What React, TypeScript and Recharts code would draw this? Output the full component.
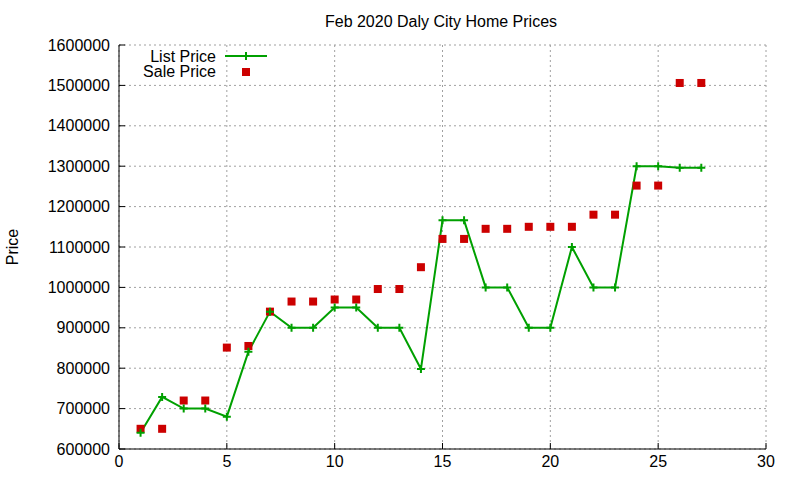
import React from 'react';
import { ComposedChart, Line, Scatter, XAxis, YAxis, CartesianGrid, Legend } from 'recharts';

const days = [1, 2, 3, 4, 5, 6, 7, 8, 9, 10, 11, 12, 13, 14, 15, 16, 17, 18, 19, 20, 21, 22, 23, 24, 25, 26, 27];
const listPrice = [640000, 729000, 700000, 700000, 680000, 841000, 940000, 900000, 900000, 950000, 950000, 900000, 900000, 798000, 1166000, 1166000, 1000000, 1000000, 900000, 900000, 1100000, 1000000, 1000000, 1300000, 1300000, 1296000, 1296000];
const salePrice = [650000, 650000, 720000, 720000, 851000, 855000, 940000, 965000, 965000, 970000, 970000, 996000, 996000, 1050000, 1120000, 1120000, 1145000, 1145000, 1150000, 1150000, 1150000, 1180000, 1180000, 1252000, 1252000, 1506000, 1506000];
const xTicks = [0, 5, 10, 15, 20, 25, 30];
const yTicks = [600000, 700000, 800000, 900000, 1000000, 1100000, 1200000, 1300000, 1400000, 1500000, 1600000];

const title = 'Feb 2020 Daly City Home Prices';
const yLabel = 'Price';
const listName = 'List Price';
const saleName = 'Sale Price';

const data = days.map((d, i) => ({ x: d, list: listPrice[i], sale: salePrice[i] }));

const GREEN = '#00a000';
const RED = '#cc0000';

const CrossDot = (props: any) => {
  const { cx, cy } = props;
  if (cx == null || cy == null) return null;
  return <path d={`M${cx - 4},${cy}h8M${cx},${cy - 4}v8`} stroke={GREEN} strokeWidth={2} fill="none" />;
};

const Square = (props: any) => {
  const { cx, cy } = props;
  if (cx == null || cy == null) return null;
  return <rect x={cx - 4} y={cy - 4} width={8} height={8} fill={RED} />;
};

const LegendContent = () => (
  <svg width={300} height={90} style={{ position: 'absolute', left: 0, top: 0, overflow: 'visible' }}>
    <text x={216} y={56} textAnchor="end" dominantBaseline="central" fontSize={16} fill="#000">{listName}</text>
    <line x1={225} x2={267} y1={56} y2={56} stroke={GREEN} strokeWidth={2} />
    <path d="M246,52v8" stroke={GREEN} strokeWidth={2} />
    <text x={216} y={71} textAnchor="end" dominantBaseline="central" fontSize={16} fill="#000">{saleName}</text>
    <rect x={242} y={68} width={8} height={8} fill={RED} />
  </svg>
);

export default function App() {
  return (
    <div style={{ position: 'absolute', left: 0, top: 0, width: 800, height: 480, background: '#fff', fontFamily: '"Liberation Sans", Arial, sans-serif' }}>
      <ComposedChart width={800} height={480} data={data} margin={{ top: 45, right: 34, bottom: 0, left: 9 }}>
        <text x={441} y={21} textAnchor="middle" dominantBaseline="central" fontSize={16} fill="#000">{title}</text>
        <CartesianGrid stroke="#a0a0a0" strokeDasharray="2 3" verticalPoints={undefined} />
        <XAxis
          dataKey="x"
          type="number"
          domain={[0, 30]}
          ticks={xTicks}
          interval={0}
          height={31}
          tickSize={-6}
          tickMargin={13}
          axisLine={{ stroke: '#000' }}
          tickLine={{ stroke: '#000' }}
          tick={{ fill: '#000', fontSize: 16 }}
        />
        <XAxis
          xAxisId="top"
          orientation="top"
          type="number"
          domain={[0, 30]}
          ticks={xTicks}
          interval={0}
          height={0}
          tickSize={-6}
          tick={false}
          axisLine={{ stroke: '#000' }}
          tickLine={{ stroke: '#000' }}
        />
        <YAxis
          type="number"
          domain={[600000, 1600000]}
          ticks={yTicks}
          interval={0}
          width={110}
          tickSize={-6}
          tickMargin={15}
          axisLine={{ stroke: '#000' }}
          tickLine={{ stroke: '#000' }}
          tick={{ fill: '#000', fontSize: 16 }}
          label={{
            content: () => (
              <text x={12} y={247} transform="rotate(-90 12 247)" textAnchor="middle" dominantBaseline="central" fontSize={16} fill="#000">{yLabel}</text>
            ),
          }}
        />
        <YAxis
          yAxisId="right"
          orientation="right"
          type="number"
          domain={[600000, 1600000]}
          ticks={yTicks}
          interval={0}
          width={0}
          tickSize={-6}
          tick={false}
          axisLine={{ stroke: '#000' }}
          tickLine={{ stroke: '#000' }}
        />
        <Legend layout="vertical" align="center" verticalAlign="middle" wrapperStyle={{ left: 0, top: 0, width: 300, height: 90 }} content={LegendContent} />
        <Line dataKey="list" name={listName} stroke={GREEN} strokeWidth={2} dot={CrossDot} activeDot={false} isAnimationActive={false} />
        <Scatter dataKey="sale" name={saleName} shape={Square} isAnimationActive={false} />
      </ComposedChart>
    </div>
  );
}
